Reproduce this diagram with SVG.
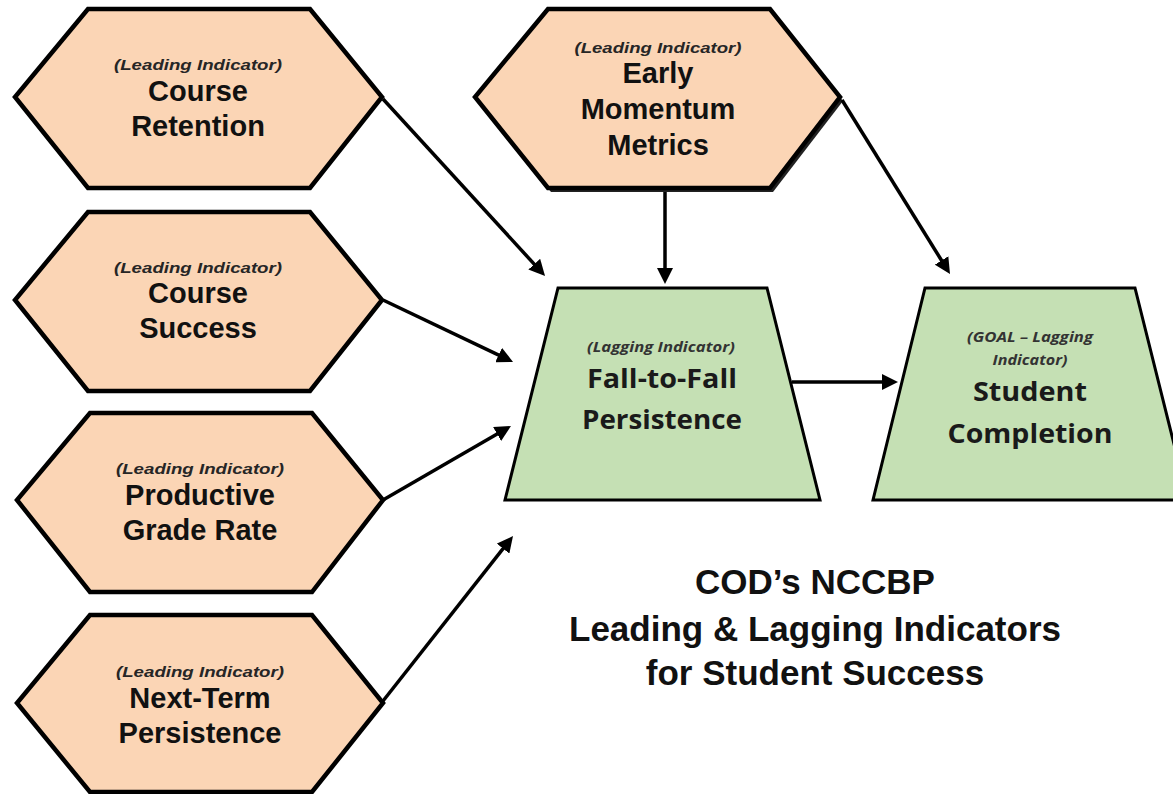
<svg xmlns="http://www.w3.org/2000/svg" width="1173" height="794" viewBox="0 0 1173 794">
<defs>
<style>
.hex{fill:#FBD5B5;stroke:#000;stroke-width:4.5;stroke-linejoin:miter}
.trap{fill:#C5E0B4;stroke:#000;stroke-width:3}
.sub{font-family:"Liberation Sans",Arial,sans-serif;font-weight:bold;font-style:italic;font-size:15px;fill:#262626;text-anchor:middle}
.main{font-family:"Liberation Sans",Arial,sans-serif;font-weight:bold;font-size:29px;fill:#111;text-anchor:middle}
.tsub{font-family:"Open Sans","Noto Sans",sans-serif;font-weight:bold;font-style:italic;font-size:15px;fill:#333;text-anchor:middle}
.tmain{font-family:"Open Sans","Noto Sans",sans-serif;font-weight:bold;font-size:27px;fill:#1a1a1a;text-anchor:middle}
.title{font-family:"Liberation Sans",Arial,sans-serif;font-weight:bold;font-size:35px;fill:#111;text-anchor:middle}
.conn line{stroke:#000;stroke-width:3.5;marker-end:url(#ah)}
</style>
<marker id="ah" markerUnits="userSpaceOnUse" markerWidth="16" markerHeight="16" refX="6" refY="8" orient="auto">
<path d="M0,0 L16,8 L0,16 z" fill="#000"/>
</marker>
</defs>
<rect width="1173" height="794" fill="#fff"/>

<g id="course-retention">
<polygon class="hex" points="88,9 310,9 382,97 310,188 88,188 15,97"/>
<text class="sub" x="198" y="70" textLength="168" lengthAdjust="spacingAndGlyphs">(Leading Indicator)</text>
<text class="main" x="198" y="101">Course</text>
<text class="main" x="198" y="136">Retention</text>
</g>

<g id="course-success">
<polygon class="hex" points="88,212 310,212 382,300 310,391 88,391 15,300"/>
<text class="sub" x="198" y="273" textLength="168" lengthAdjust="spacingAndGlyphs">(Leading Indicator)</text>
<text class="main" x="198" y="303">Course</text>
<text class="main" x="198" y="338">Success</text>
</g>

<g id="productive-grade-rate">
<polygon class="hex" points="90,413 312,413 383,500 312,592 90,592 17,500"/>
<text class="sub" x="200" y="474" textLength="168" lengthAdjust="spacingAndGlyphs">(Leading Indicator)</text>
<text class="main" x="200" y="505">Productive</text>
<text class="main" x="200" y="540">Grade Rate</text>
</g>

<g id="next-term-persistence">
<polygon class="hex" points="90,615 312,615 383,703 312,792 90,792 17,703"/>
<text class="sub" x="200" y="677" textLength="168" lengthAdjust="spacingAndGlyphs">(Leading Indicator)</text>
<text class="main" x="200" y="708">Next-Term</text>
<text class="main" x="200" y="743">Persistence</text>
</g>

<g id="early-momentum">
<polygon points="551,13 773,13 843,101 773,192 551,192 478,101" fill="#222"/>
<polygon class="hex" points="548,9 770,9 840,97 770,188 548,188 475,97"/>
<text class="sub" x="658" y="53" textLength="167" lengthAdjust="spacingAndGlyphs">(Leading Indicator)</text>
<text class="main" x="658" y="83">Early</text>
<text class="main" x="658" y="119">Momentum</text>
<text class="main" x="658" y="155">Metrics</text>
</g>

<g id="fall-to-fall">
<polygon class="trap" points="558,288 767,288 820,500 505,500"/>
<text class="tsub" x="661" y="352" textLength="148" lengthAdjust="spacingAndGlyphs">(Lagging Indicator)</text>
<text class="tmain" x="662" y="388" textLength="150" lengthAdjust="spacingAndGlyphs">Fall-to-Fall</text>
<text class="tmain" x="662" y="429" textLength="160" lengthAdjust="spacingAndGlyphs">Persistence</text>
</g>

<g id="student-completion">
<polygon class="trap" points="925,288 1135,288 1188,500 873,500"/>
<text class="tsub" x="1030" y="342" textLength="126" lengthAdjust="spacingAndGlyphs">(GOAL – Lagging</text>
<text class="tsub" x="1030" y="365" textLength="75" lengthAdjust="spacingAndGlyphs">Indicator)</text>
<text class="tmain" x="1030" y="401" textLength="114" lengthAdjust="spacingAndGlyphs">Student</text>
<text class="tmain" x="1030" y="443" textLength="165" lengthAdjust="spacingAndGlyphs">Completion</text>
</g>

<g id="title">
<text class="title" x="815" y="594">COD’s NCCBP</text>
<text class="title" x="815" y="641">Leading &amp; Lagging Indicators</text>
<text class="title" x="815" y="685">for Student Success</text>
</g>

<g id="connectors" class="conn">
<line x1="383" y1="99" x2="538.3" y2="268.6"/>
<line x1="383" y1="300" x2="504" y2="357.7"/>
<line x1="383" y1="500" x2="502.3" y2="431"/>
<line x1="383" y1="701" x2="506.8" y2="543.9"/>
<line x1="665" y1="192" x2="665" y2="274"/>
<line x1="842" y1="100" x2="944.7" y2="265.5"/>
<line x1="792" y1="382" x2="888" y2="382"/>
</g>
</svg>
